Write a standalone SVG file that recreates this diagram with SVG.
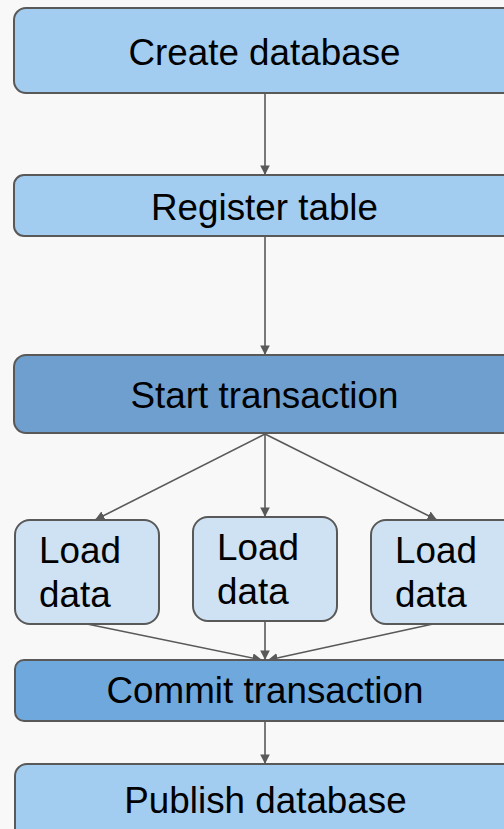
<svg xmlns="http://www.w3.org/2000/svg" width="504" height="829" viewBox="0 0 504 829">
  <defs>
    <marker id="arrow" viewBox="0 0 10 10" refX="10" refY="5" markerWidth="6" markerHeight="6" markerUnits="strokeWidth" orient="auto">
      <path d="M0,0 L10,5 L0,10 z" fill="#595959"/>
    </marker>
    <style>
      .box { stroke: #595959; stroke-width: 2; }
      .light { fill: #a3cdf0; }
      .start { fill: #6f9fcf; }
      .commit { fill: #6fa8dc; }
      .load { fill: #cfe2f3; }
      .label { font-family: "Liberation Sans", Arial, sans-serif; font-size: 36.8px; fill: #000000; }
      .mid { text-anchor: middle; }
      .edge { stroke: #595959; stroke-width: 1.6; fill: none; marker-end: url(#arrow); }
    </style>
  </defs>

  <rect x="0" y="0" width="504" height="829" fill="#f8f8f8"/>

  <g id="connectors">
    <line class="edge" x1="265" y1="94" x2="265" y2="175"/>
    <line class="edge" x1="265" y1="237" x2="265" y2="355"/>
    <line class="edge" x1="265" y1="434" x2="95" y2="520"/>
    <line class="edge" x1="265" y1="434" x2="265" y2="517"/>
    <line class="edge" x1="265" y1="434" x2="437" y2="520"/>
    <line class="edge" x1="87" y1="624" x2="262" y2="660"/>
    <line class="edge" x1="265" y1="622" x2="265" y2="660"/>
    <line class="edge" x1="433" y1="624" x2="268" y2="660"/>
    <line class="edge" x1="265" y1="722" x2="265" y2="764"/>
  </g>

  <g id="create-database">
    <rect class="box light" x="14" y="8" width="510" height="85" rx="12"/>
    <text class="label mid" x="264.5" y="65">Create database</text>
  </g>

  <g id="register-table">
    <rect class="box light" x="14" y="175" width="510" height="61" rx="10"/>
    <text class="label mid" x="264.5" y="220">Register table</text>
  </g>

  <g id="start-transaction">
    <rect class="box start" x="14" y="355" width="510" height="78" rx="12"/>
    <text class="label mid" x="264.5" y="408">Start transaction</text>
  </g>

  <g id="load-data-1">
    <rect class="box load" x="15" y="520" width="144" height="104" rx="15"/>
    <text class="label" x="39" y="563">Load</text>
    <text class="label" x="39" y="607">data</text>
  </g>

  <g id="load-data-2">
    <rect class="box load" x="193" y="517" width="144" height="104" rx="15"/>
    <text class="label" x="217" y="560">Load</text>
    <text class="label" x="217" y="604">data</text>
  </g>

  <g id="load-data-3">
    <rect class="box load" x="371" y="520" width="150" height="104" rx="15"/>
    <text class="label" x="395" y="563">Load</text>
    <text class="label" x="395" y="607">data</text>
  </g>

  <g id="commit-transaction">
    <rect class="box commit" x="15" y="660" width="510" height="61" rx="9"/>
    <text class="label mid" x="265" y="703">Commit transaction</text>
  </g>

  <g id="publish-database">
    <rect class="box light" x="15" y="764" width="510" height="80" rx="12"/>
    <text class="label mid" x="265.5" y="813">Publish database</text>
  </g>
</svg>
